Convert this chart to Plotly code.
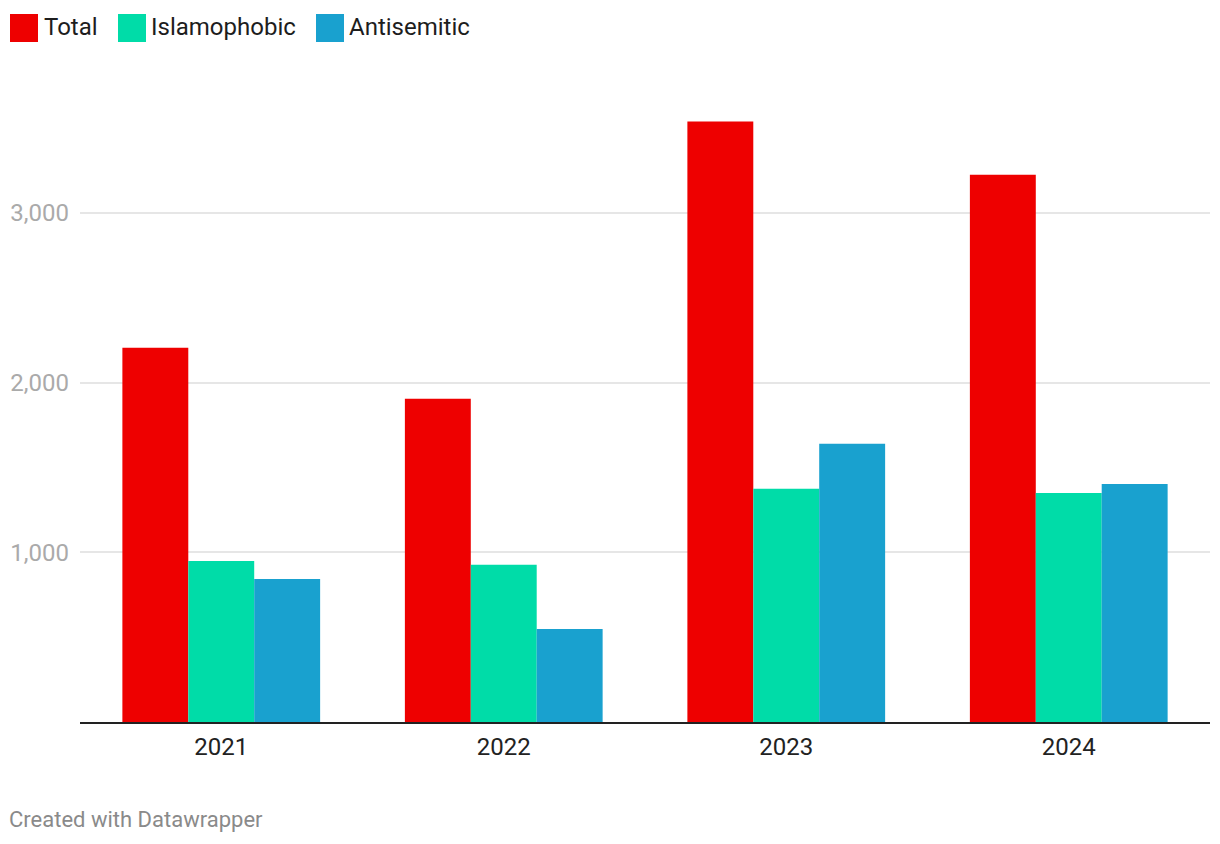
import plotly.graph_objects as go

years = ["2021", "2022", "2023", "2024"]
total = [2205, 1904, 3538, 3225]
islamophobic = [949, 926, 1374, 1350]
antisemitic = [843, 548, 1639, 1403]

series_names = ["Total", "Islamophobic", "Antisemitic"]
series_values = [total, islamophobic, antisemitic]
colors = ["#EE0000", "#00DCA8", "#19A1CF"]

y_ticks = [1000, 2000, 3000]
y_tick_text = ["1,000", "2,000", "3,000"]

W, H = 1220, 844
fig = go.Figure()
for name, vals, c in zip(series_names, series_values, colors):
    fig.add_trace(go.Bar(x=years, y=vals, name=name, marker=dict(color=c, line=dict(width=0)),
                         showlegend=False))

# plot area in screen pixels: x 80..1210, y 111..722
PL, PR, PT, PB = 80, 1210, 111, 722

def px(x):
    return (x - PL) / (PR - PL)

def py(y):
    return (PB - y) / (PB - PT)

legend_items = [(10, 45), (118, 152), (316, 350)]
shapes = []
annotations = []
for (sx, tx), name, c in zip(legend_items, series_names, colors):
    shapes.append(dict(type="rect", xref="paper", yref="paper",
                       x0=px(sx), x1=px(sx + 28), y0=py(42), y1=py(14),
                       fillcolor=c, line=dict(width=0)))
    annotations.append(dict(x=px(tx - 3), y=py(27), xref="paper", yref="paper",
                            text=name, showarrow=False, xanchor="left", yanchor="middle",
                            font=dict(size=24, color="#1d1d1d", family="Roboto")))

annotations.append(dict(x=px(7), y=py(819), xref="paper", yref="paper",
                        text="Created with Datawrapper", showarrow=False,
                        xanchor="left", yanchor="middle",
                        font=dict(size=22, color="#8a8a8a", family="Roboto")))

fig.update_layout(
    width=W, height=H,
    margin=dict(l=72, r=18, t=103, b=130, autoexpand=False),
    paper_bgcolor="white", plot_bgcolor="white",
    barmode="group", bargap=0.3, bargroupgap=0,
    font=dict(family="Roboto"),
    shapes=shapes, annotations=annotations,
    xaxis=dict(type="category", showgrid=False, showline=True, linecolor="#222222",
               linewidth=2, ticks="", tickfont=dict(size=24, color="#222222"),
               ticklabelstandoff=2, range=[-0.5, 3.5], fixedrange=True),
    yaxis=dict(range=[0, 3600], tickvals=y_ticks, ticktext=y_tick_text,
               showgrid=True, gridcolor="#e6e6e6", gridwidth=2, zeroline=False,
               tickfont=dict(size=24, color="#aaaaaa"), ticks="",
               ticklabelstandoff=10, showline=False),
)

fig.write_html("out.html")
